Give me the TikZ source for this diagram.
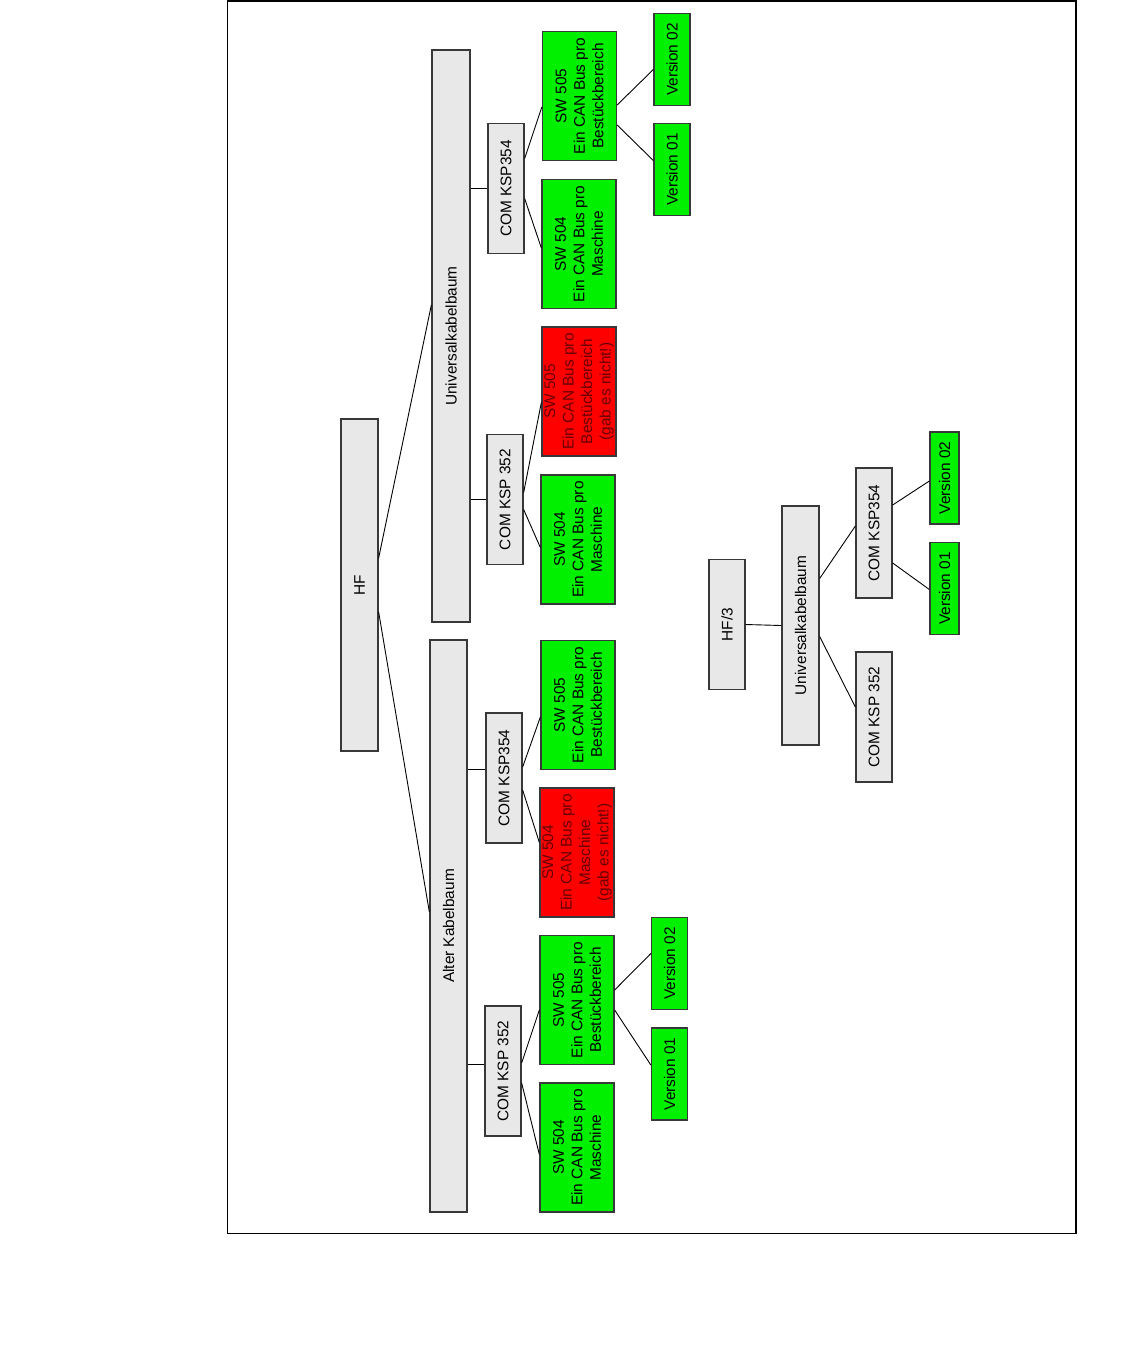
\documentclass[tikz,border=0pt]{standalone}
\usepackage{fontspec}
\setmainfont{Liberation Sans}
\definecolor{boxgray}{HTML}{E8E8E8}
\definecolor{boxgreen}{HTML}{00F000}
\definecolor{boxred}{HTML}{FF0000}
\definecolor{redtext}{HTML}{680000}
\definecolor{boxline}{HTML}{383838}

\begin{document}
\begin{tikzpicture}[x=1pt,y=-1pt,
  box/.style={draw=boxline,line width=1.3pt,rotate=90,inner sep=0pt,align=center,
    font=\fontsize{15.4}{18.5}\selectfont},
  graybox/.style={box,fill=boxgray},
  combox/.style={graybox,minimum width=130pt,minimum height=36pt},
  swbox/.style={box,fill=boxgreen,minimum width=129pt,minimum height=74pt},
  nobox/.style={swbox,fill=boxred,text=redtext},
  verbox/.style={box,fill=boxgreen,minimum width=92pt,minimum height=36pt},
  link/.style={line width=0.9pt}]
  \useasboundingbox (0,0) rectangle (1134,1358);
  \draw[line width=1.5pt] (227.5,0.8) rectangle (1076,1233.5);

  \node[graybox,minimum width=332pt,minimum height=37pt] (hf) at (359.5,585) {HF};
  \node[graybox,minimum width=572pt,minimum height=38pt] (univ) at (451,336) {Universalkabelbaum};
  \node[graybox,minimum width=572pt,minimum height=37pt] (alter) at (448.5,926) {Alter Kabelbaum};

  \node[combox] (c1) at (506,188.5) {COM KSP354};
  \node[combox] (c2) at (505,499.5) {COM KSP 352};
  \node[combox] (c3) at (504,778) {COM KSP354};
  \node[combox] (c4) at (503,1071) {COM KSP 352};

  \node[swbox] (s1) at (579.5,96) {SW 505\\Ein CAN Bus pro\\Bestückbereich};
  \node[swbox] (s2) at (579,244) {SW 504\\Ein CAN Bus pro\\Maschine};
  \node[nobox] (s3) at (579,391.5) {SW 505\\Ein CAN Bus pro\\Bestückbereich\\(gab es nicht!)};
  \node[swbox] (s4) at (578,539.5) {SW 504\\Ein CAN Bus pro\\Maschine};
  \node[swbox] (s5) at (578,705) {SW 505\\Ein CAN Bus pro\\Bestückbereich};
  \node[nobox] (s6) at (577,852.5) {SW 504\\Ein CAN Bus pro\\Maschine\\(gab es nicht!)};
  \node[swbox] (s7) at (577,1000) {SW 505\\Ein CAN Bus pro\\Bestückbereich};
  \node[swbox] (s8) at (577,1147.5) {SW 504\\Ein CAN Bus pro\\Maschine};

  \node[verbox] (v1) at (672,59.5) {Version 02};
  \node[verbox] (v2) at (672,169.5) {Version 01};
  \node[verbox] (v3) at (669.5,963.5) {Version 02};
  \node[verbox] (v4) at (669.5,1074) {Version 01};

  \node[combox] (hfb) at (727,624.5) {HF/3};
  \node[graybox,minimum width=239pt,minimum height=37pt] (univb) at (800.5,625.5) {Universalkabelbaum};
  \node[combox] (c5) at (874,533) {COM KSP354};
  \node[combox] (c6) at (874,717) {COM KSP 352};
  \node[verbox,minimum height=29pt] (v5) at (944.5,478) {Version 02};
  \node[verbox,minimum height=29pt] (v6) at (944.5,588.5) {Version 01};

  \draw[link] ([yshift=27pt]hf.south) -- ([yshift=31pt]univ.north);
  \draw[link] ([yshift=-27pt]hf.south) -- ([yshift=14pt]alter.north);
  \draw[link] (univ.south |- c1.north) -- (c1.north);
  \draw[link] (univ.south |- c2.north) -- (c2.north);
  \draw[link] ([yshift=9pt]c3.north -| alter.south) -- ([yshift=9pt]c3.north);
  \draw[link] ([yshift=7pt]c4.north -| alter.south) -- ([yshift=7pt]c4.north);
  \draw[link] ([yshift=30pt]c1.south) -- ([yshift=-11pt]s1.north);
  \draw[link] ([yshift=-10pt]c1.south) -- ([yshift=-4pt]s2.north);
  \draw[link] ([yshift=7pt]c2.south) -- ([yshift=-11pt]s3.north);
  \draw[link] ([yshift=-10pt]c2.south) -- ([yshift=-8pt]s4.north);
  \draw[link] ([yshift=11pt]c3.south) -- ([yshift=-12pt]s5.north);
  \draw[link] ([yshift=-12pt]c3.south) -- ([yshift=10pt]s6.north);
  \draw[link] ([yshift=8pt]c4.south) -- ([yshift=-10pt]s7.north);
  \draw[link] ([yshift=-12pt]c4.south) -- ([yshift=-7pt]s8.north);
  \draw[link] ([yshift=-9pt]s1.south) -- ([yshift=-10pt]v1.north);
  \draw[link] ([yshift=-29pt]s1.south) -- ([yshift=9pt]v2.north);
  \draw[link] ([yshift=10pt]s7.south) -- ([yshift=10pt]v3.north);
  \draw[link] ([yshift=-10pt]s7.south) -- ([yshift=9pt]v4.north);

  \draw[link] (hfb.south) -- (univb.north);
  \draw[link] ([yshift=47pt]univb.south) -- ([yshift=7pt]c5.north);
  \draw[link] ([yshift=-11pt]univb.south) -- ([yshift=10pt]c6.north);
  \draw[link] ([yshift=28pt]c5.south) -- ([yshift=-3pt]v5.north);
  \draw[link] ([yshift=-30pt]c5.south) -- ([yshift=-1pt]v6.north);
\end{tikzpicture}
\end{document}
